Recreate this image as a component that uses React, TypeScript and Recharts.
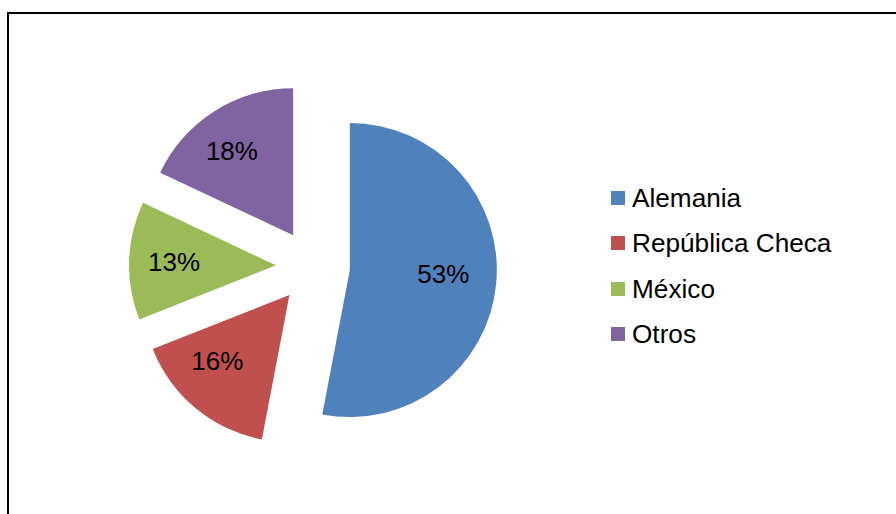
import React from 'react';
import { PieChart, Pie, Sector, Legend } from 'recharts';

const categories = ['Alemania', 'República Checa', 'México', 'Otros'];
const shares = [53, 16, 13, 18];
const colors = ['#4F81BD', '#C0504D', '#9BBB59', '#8064A2'];

const data = categories.map((name, i) => ({ name, value: shares[i] }));

const FONT = '"Liberation Sans", Arial, sans-serif';
const EXPLODE = 37;
const RAD = Math.PI / 180;
// Excel's "best fit" label spots: distance (share of radius) and a small turn off the bisector
const labelFrac = [0.637, 0.664, 0.694, 0.709];
const labelTurn = [3, -8, 0, 3.6];

// each slice is pushed out along its bisector, like Excel's exploded pie
const renderSlice = (props: any) => {
  const { cx, cy, midAngle, startAngle, endAngle, outerRadius, percent, index } = props;
  const sx = cx + EXPLODE * Math.cos(-midAngle * RAD);
  const sy = cy + EXPLODE * Math.sin(-midAngle * RAD);
  const la = (midAngle + labelTurn[index]) * RAD;
  const lr = outerRadius * labelFrac[index];
  const lx = sx + lr * Math.cos(-la);
  const ly = sy + lr * Math.sin(-la);
  return (
    <g key={`slice-${index}`}>
      <Sector
        cx={sx}
        cy={sy}
        innerRadius={0}
        outerRadius={outerRadius}
        startAngle={startAngle}
        endAngle={endAngle}
        fill={colors[index]}
        stroke="none"
      />
      <text
        x={lx}
        y={ly}
        textAnchor="middle"
        dominantBaseline="central"
        fontSize={26}
        fontFamily={FONT}
        fill="#000"
      >
        {`${Math.round(percent * 100)}%`}
      </text>
    </g>
  );
};

// legend keeps the data order (recharts sorts by name otherwise)
const renderLegend = () => (
  <div style={{ fontFamily: FONT, fontSize: 26.2 }}>
    {categories.map((name, i) => (
      <div key={name} style={{ display: 'flex', alignItems: 'center', height: 45.33 }}>
        <span style={{ width: 14, height: 14, background: colors[i], marginRight: 7, flex: 'none' }} />
        <span style={{ lineHeight: 1, color: '#000', whiteSpace: 'nowrap' }}>{name}</span>
      </div>
    ))}
  </div>
);

export default function App() {
  return (
    <div style={{ position: 'absolute', left: 0, top: 0, width: 896, height: 514, overflow: 'hidden', background: '#fff' }}>
      <div
        style={{
          position: 'absolute',
          left: 7,
          top: 12,
          width: 1000,
          height: 1000,
          border: '2px solid #000',
        }}
      />
      <div style={{ position: 'absolute', left: 0, top: 0 }}>
        <PieChart width={896} height={514} margin={{ top: 0, right: 0, bottom: 0, left: 0 }}>
          <Pie
            data={data}
            dataKey="value"
            nameKey="name"
            cx={313}
            cy={266.5}
            outerRadius={147}
            startAngle={90}
            endAngle={-270}
            fill="none"
            stroke="none"
            label={renderSlice}
            labelLine={false}
            isAnimationActive={false}
          />
          <Legend
            layout="vertical"
            align="right"
            verticalAlign="middle"
            content={renderLegend}
            wrapperStyle={{ left: 611, top: 175.3, right: 'auto', width: 280 }}
          />
        </PieChart>
      </div>
    </div>
  );
}
